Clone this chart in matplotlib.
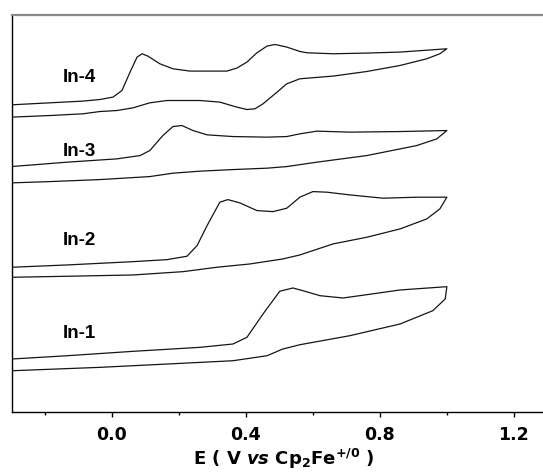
import matplotlib
import matplotlib.pyplot as plt
from matplotlib.ticker import MultipleLocator
matplotlib.use('agg')

plt.rcParams['font.family'] = ['DejaVu Sans']
plt.rcParams['mathtext.fontset'] = 'custom'
plt.rcParams['mathtext.rm'] = 'DejaVu Sans:bold'
plt.rcParams['mathtext.bf'] = 'DejaVu Sans:bold'
plt.rcParams['mathtext.it'] = 'DejaVu Sans:bold:italic'

# potential (V vs Fc) and current (arb. units, offset per trace)
in4_fwd_e = [-0.30, -0.185, -0.087, -0.036, 0.003, 0.030, 0.054, 0.075, 0.090, 0.107, 0.143, 0.182,
             0.233, 0.343, 0.373, 0.403, 0.433, 0.463, 0.487, 0.522, 0.561, 0.582, 0.660, 0.761,
             0.860, 0.958, 1.0]
in4_fwd_i = [30.7, 30.9, 31.07, 31.23, 31.47, 32.13, 33.97, 35.47, 35.8, 35.57, 34.8, 34.3,
             34.07, 34.07, 34.37, 34.97, 35.9, 36.57, 36.73, 36.47, 36.03, 35.9, 35.8, 35.87,
             35.97, 36.2, 36.3]
in4_rev_e = [1.0, 0.979, 0.940, 0.860, 0.761, 0.660, 0.561, 0.522, 0.493, 0.451, 0.427, 0.403,
             0.373, 0.322, 0.263, 0.164, 0.113, 0.063, 0.015, -0.036, -0.087, -0.185, -0.30]
in4_rev_i = [36.3, 35.8, 35.3, 34.63, 34.03, 33.57, 33.3, 32.8, 31.97, 30.8, 30.3, 30.23,
             30.47, 30.97, 31.13, 31.13, 30.9, 30.4, 30.13, 30.03, 29.8, 29.63, 29.47]

in3_fwd_e = [-0.30, -0.134, 0.015, 0.084, 0.113, 0.152, 0.182, 0.209, 0.242, 0.284, 0.361,
             0.463, 0.522, 0.561, 0.612, 0.710, 0.860, 1.0]
in3_fwd_i = [24.53, 24.97, 25.3, 25.63, 26.13, 27.63, 28.53, 28.63, 28.13, 27.7, 27.53,
             27.47, 27.53, 27.8, 28.07, 27.97, 28.03, 28.13]
in3_rev_e = [1.0, 0.970, 0.910, 0.761, 0.612, 0.522, 0.463, 0.361, 0.263, 0.182, 0.113,
             -0.036, -0.185, -0.30]
in3_rev_i = [28.13, 27.3, 26.63, 25.63, 24.97, 24.53, 24.37, 24.23, 24.07, 23.87, 23.53,
             23.23, 23.03, 22.9]

in2_fwd_e = [-0.30, -0.134, 0.063, 0.164, 0.224, 0.254, 0.284, 0.322, 0.346, 0.382, 0.433,
             0.481, 0.522, 0.561, 0.600, 0.642, 0.710, 0.809, 0.910, 1.0]
in2_fwd_i = [14.47, 14.7, 15.03, 15.23, 15.57, 16.63, 18.63, 20.97, 21.23, 20.9, 20.13,
             20.03, 20.37, 21.47, 22.03, 21.97, 21.7, 21.37, 21.47, 21.47]
in2_rev_e = [1.0, 0.979, 0.940, 0.860, 0.761, 0.660, 0.561, 0.510, 0.412, 0.313, 0.212,
             0.063, -0.134, -0.30]
in2_rev_i = [21.47, 20.3, 19.3, 18.3, 17.47, 16.8, 15.7, 15.3, 14.8, 14.47, 14.03,
             13.7, 13.57, 13.47]

in1_fwd_e = [-0.30, -0.134, 0.063, 0.263, 0.361, 0.403, 0.451, 0.501, 0.540, 0.570, 0.621,
             0.690, 0.761, 0.860, 1.0]
in1_fwd_i = [5.3, 5.63, 6.07, 6.47, 6.8, 7.47, 9.8, 12.07, 12.4, 12.13, 11.63,
             11.4, 11.73, 12.2, 12.53]
in1_rev_e = [1.0, 0.995, 0.958, 0.860, 0.710, 0.561, 0.510, 0.463, 0.361, 0.164, -0.036, -0.30]
in1_rev_i = [12.53, 11.3, 10.13, 8.8, 7.63, 6.73, 6.3, 5.63, 5.13, 4.8, 4.47, 4.13]

labels = ['In-4', 'In-3', 'In-2', 'In-1']
label_y = [33.5, 26.1, 17.2, 8.0]

fig = plt.figure(figsize=(5.43, 4.77), dpi=100)
ax = fig.add_axes([0.023, 0.134, 0.977, 0.833])

traces = [(in4_fwd_e, in4_fwd_i, in4_rev_e, in4_rev_i),
          (in3_fwd_e, in3_fwd_i, in3_rev_e, in3_rev_i),
          (in2_fwd_e, in2_fwd_i, in2_rev_e, in2_rev_i),
          (in1_fwd_e, in1_fwd_i, in1_rev_e, in1_rev_i)]
for fe, fi, re_, ri in traces:
    ax.plot(fe + re_, fi + ri, color='#151515', lw=0.9,
            solid_joinstyle='round', solid_capstyle='round')

for name, y in zip(labels, label_y):
    ax.text(-0.148, y, name, fontsize=13.5, fontweight='bold', ha='left', va='center',
            family='Liberation Sans')

ax.set_xlim(-0.297, 1.287)
ax.set_ylim(0, 39.7)
ax.xaxis.set_minor_locator(MultipleLocator(0.2))
ax.set_xticks([0.0, 0.4, 0.8, 1.2])
ax.set_xticklabels(['0.0', '0.4', '0.8', '1.2'], fontweight='bold', fontsize=12.5)
ax.set_yticks([])
ax.tick_params(axis='x', which='major', direction='out', length=3.5, width=1, pad=6)
ax.tick_params(axis='x', which='minor', direction='out', length=2, width=1)

ax.spines['right'].set_visible(False)
ax.spines['top'].set_color('#888888')
ax.spines['top'].set_linewidth(1.6)
ax.spines['left'].set_linewidth(1.0)
ax.spines['bottom'].set_linewidth(1.0)

ax.set_xlabel(r'E ( V $\mathit{vs}$ Cp$_{2}$Fe$^{+/0}$ )', fontsize=13, fontweight='bold')
ax.xaxis.set_label_coords(0.512, -0.086)

plt.savefig('out.png', dpi=100)
plt.close(fig)
